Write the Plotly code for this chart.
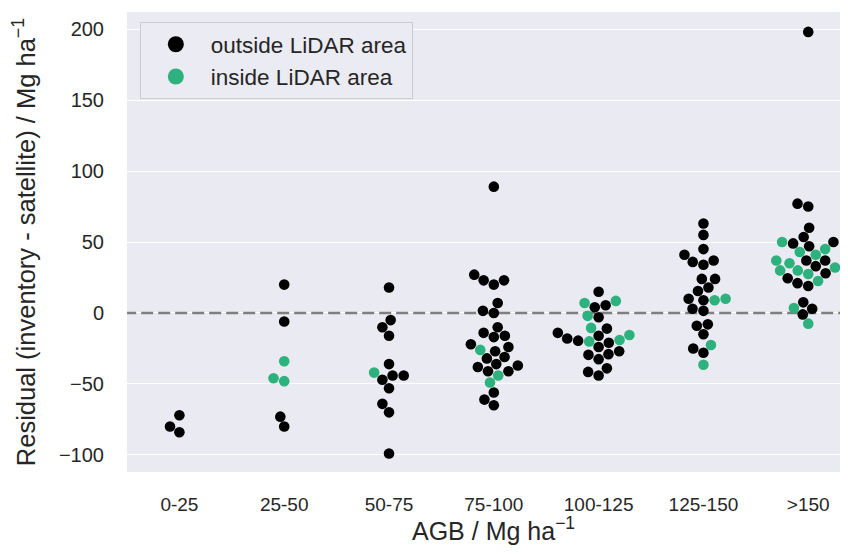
import numpy as np
import plotly.graph_objects as go

categories = ["0-25", "25-50", "50-75", "75-100", "100-125", "125-150", ">150"]

outside_0_25 = [-72, -80, -84]
inside_0_25 = []
outside_25_50 = [20, -6, -73, -80]
inside_25_50 = [-34, -46, -48]
outside_50_75 = [18, -5, -10, -16, -36, -44, -44, -47, -53, -64, -70, -99]
inside_50_75 = [-42]
outside_75_100 = [89, 27, 23, 20, 23, 7, 1.5, 0, -10, -14, -16, -17, -27, -24, -22,
                  -32, -31, -36, -38, -37, -41, -41, -56, -61, -65]
inside_75_100 = [-26, -44, -49]
outside_100_125 = [15, 4, 5.5, -3, -11, -14, -16, -18, -19.5, -21, -24, -27, -29.5,
                   -29, -32.5, -39, -41.5, -44]
inside_100_125 = [7, 8.5, -2, -10.5, -15.5, -20, -19]
outside_125_150 = [63, 55, 45, 41, 36, 34, 37, 24, 24, 18, 15.5, 10, 9, 3, 1.5, -8,
                   -9, -15, -25, -28]
inside_125_150 = [9, 10, -22.5, -36.5]
outside_150 = [198, 77, 75, 60, 53.5, 50, 49, 47, 37, 37, 33, 28, 24.5, 21, 19, 7.5,
               3, -1]
inside_150 = [50, 43, 45, 41, 37, 35, 32, 30, 30, 32, 27.5, 22.5, 3.5, -7.5]

outside_groups = [outside_0_25, outside_25_50, outside_50_75, outside_75_100,
                  outside_100_125, outside_125_150, outside_150]
inside_groups = [inside_0_25, inside_25_50, inside_50_75, inside_75_100,
                 inside_100_125, inside_125_150, inside_150]

REF_LINE = 0  # dashed reference line at zero residual

# layout geometry (pixels); the page body adds an 8px margin around the figure
W, H = 832, 539
ML, MR, MT, MB = 119, 0, 4, 75
X_RANGE = [-0.5, 6.303]
Y_RANGE = [-112, 212]
px_per_cat = (W - ML - MR) / (X_RANGE[1] - X_RANGE[0])
px_per_val = (H - MT - MB) / (Y_RANGE[1] - Y_RANGE[0])
R = 5.3  # dot radius in px


def beeswarm(values):
    """seaborn-style beeswarm: returns x offsets in px for each value"""
    vals = np.asarray(values, dtype=float)
    n = len(vals)
    if n == 0:
        return np.array([])
    ys = vals * px_per_val
    order = np.argsort(ys, kind="stable")
    swarm = []
    out = np.zeros(n)
    for idx in order:
        y_i = ys[idx]
        if not swarm:
            swarm.append((0.0, y_i))
            out[idx] = 0.0
            continue
        neighbors = []
        for (xj, yj) in reversed(swarm):
            if (y_i - yj) < 2 * R:
                neighbors.append((xj, yj))
            else:
                break
        neighbors = neighbors[::-1]  # oldest first
        cands = [(0.0, y_i)]
        left_first = True
        for (xj, yj) in neighbors:
            dy = y_i - yj
            dx = np.sqrt(max((2 * R) ** 2 - dy ** 2, 0)) * 1.05
            cl, cr = (xj - dx, y_i), (xj + dx, y_i)
            cands.extend([cl, cr] if left_first else [cr, cl])
            left_first = not left_first
        cands.sort(key=lambda c: abs(c[0]))
        chosen = cands[0]
        if neighbors:
            for c in cands:
                ok = all((nx - c[0]) ** 2 + (ny - c[1]) ** 2 >= (2 * R) ** 2 - 1e-9
                         for nx, ny in neighbors)
                if ok:
                    chosen = c
                    break
        swarm.append(chosen)
        out[idx] = chosen[0]
    return out


ox, oy, ix, iy = [], [], [], []
for ci, (outs, ins) in enumerate(zip(outside_groups, inside_groups)):
    vals = list(outs) + list(ins)
    offs = beeswarm(vals) / px_per_cat
    for j, v in enumerate(vals):
        if j < len(outs):
            ox.append(ci + offs[j]); oy.append(v)
        else:
            ix.append(ci + offs[j]); iy.append(v)

BLACK = "#000000"
GREEN = "#2db27d"
FONT = "Liberation Sans, Arial, sans-serif"
TXT = "#262626"

fig = go.Figure()
# dashed zero line, drawn first so that dots sit on top of it
fig.add_trace(go.Scatter(x=[X_RANGE[0] - 1, X_RANGE[1] + 1], y=[REF_LINE, REF_LINE],
                         mode="lines", showlegend=False, hoverinfo="skip",
                         line=dict(color="#7f7f7f", width=2.6, dash="12px,5px")))
fig.add_trace(go.Scatter(x=ox, y=oy, mode="markers", showlegend=False,
                         marker=dict(size=2 * R, color=BLACK, line=dict(width=0))))
fig.add_trace(go.Scatter(x=ix, y=iy, mode="markers", showlegend=False,
                         marker=dict(size=2 * R, color=GREEN, line=dict(width=0))))
fig.add_trace(go.Scatter(x=[None], y=[None], mode="markers", name="outside LiDAR area",
                         marker=dict(size=16, color=BLACK)))
fig.add_trace(go.Scatter(x=[None], y=[None], mode="markers", name="inside LiDAR area",
                         marker=dict(size=16, color=GREEN)))

# x-axis title placed as an annotation (centred under the full category span)
fig.add_annotation(text="AGB / Mg ha<sup>−1</sup>", xref="x", x=3, yref="paper",
                   y=-(MB - 1) / (H - MT - MB), xanchor="center", yanchor="bottom",
                   showarrow=False, borderpad=0,
                   font=dict(size=25, color=TXT, family=FONT))

fig.update_layout(
    width=W, height=H,
    margin=dict(l=ML, r=MR, t=MT, b=MB),
    paper_bgcolor="white", plot_bgcolor="#EAEAF2",
    font=dict(family=FONT, color=TXT, size=20),
    showlegend=True,
    legend=dict(x=0.018, y=0.978, xanchor="left", yanchor="top",
                bgcolor="#EBEBF3", bordercolor="#CCCCCC", borderwidth=1,
                font=dict(size=22.5, color=TXT), itemwidth=60),
    xaxis=dict(range=X_RANGE, tickmode="array", tickvals=list(range(len(categories))),
               ticktext=categories, showgrid=False, zeroline=False,
               ticks="outside", ticklen=15, tickcolor="rgba(0,0,0,0)",
               tickfont=dict(size=19)),
    yaxis=dict(range=Y_RANGE, tickvals=[-100, -50, 0, 50, 100, 150, 200],
               showgrid=True, gridcolor="white", gridwidth=1.4, zeroline=False,
               ticks="outside", ticklen=18, tickcolor="rgba(0,0,0,0)",
               tickfont=dict(size=20),
               title=dict(text="Residual (inventory - satellite) / Mg ha<sup>−1</sup>",
                          font=dict(size=25.5), standoff=18)),
)

fig.write_html("out.html")
